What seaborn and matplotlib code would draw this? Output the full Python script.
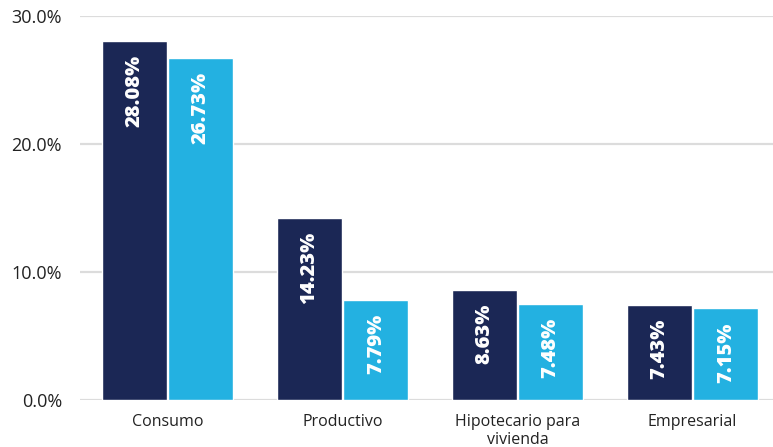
import pandas as pd
import matplotlib
matplotlib.use("Agg")
import matplotlib.pyplot as plt
import seaborn as sns

# chart data
categorias = ["Consumo", "Productivo", "Hipotecario para\nvivienda", "Empresarial"]
serie_a = [28.08, 14.23, 8.63, 7.43]
serie_b = [26.73, 7.79, 7.48, 7.15]
series = ["Serie A", "Serie B"]
colores = ["#1b2755", "#23b1e1"]

df = pd.DataFrame({
    "categoria": categorias * 2,
    "valor": serie_a + serie_b,
    "serie": [series[0]] * len(categorias) + [series[1]] * len(categorias),
})

sns.set_theme(style="white")
plt.rcParams["font.family"] = ["Open Sans", "DejaVu Sans"]

fig = plt.figure(figsize=(7.73, 4.47), dpi=100)
ax = fig.add_axes([80 / 773, 1 - 400 / 447, 1 - 80 / 773, (400 - 16) / 447])

sns.barplot(data=df, x="categoria", y="valor", hue="serie", order=categorias,
            hue_order=series, palette=colores, width=0.76, gap=0.02,
            saturation=1, ax=ax, legend=False)

ax.set_ylim(0, 30)
ax.set_xlim(-0.5, 3.46)
ax.set_yticks([0, 10, 20, 30])
ax.set_yticklabels([f"{v:.1f}%" for v in [0, 10, 20, 30]], fontsize=13, color="#222222")
ax.tick_params(axis="y", length=0, pad=13)
ax.tick_params(axis="x", length=0, pad=10, labelsize=11.5, labelcolor="#222222")
ax.set_xlabel("")
ax.set_ylabel("")
ax.grid(axis="y", color="#dcdcdc", linewidth=1.6)
ax.set_axisbelow(True)
for s in ax.spines.values():
    s.set_visible(False)

for cont in ax.containers:
    for bar in cont:
        h = bar.get_height()
        ax.annotate(f"{h:.2f}%", (bar.get_x() + bar.get_width() / 2, h),
                    xytext=(0, -10), textcoords="offset points",
                    rotation=90, ha="center", va="top", color="white",
                    fontsize=14.5, fontweight="heavy")

fig.savefig("out.png", dpi=100)
